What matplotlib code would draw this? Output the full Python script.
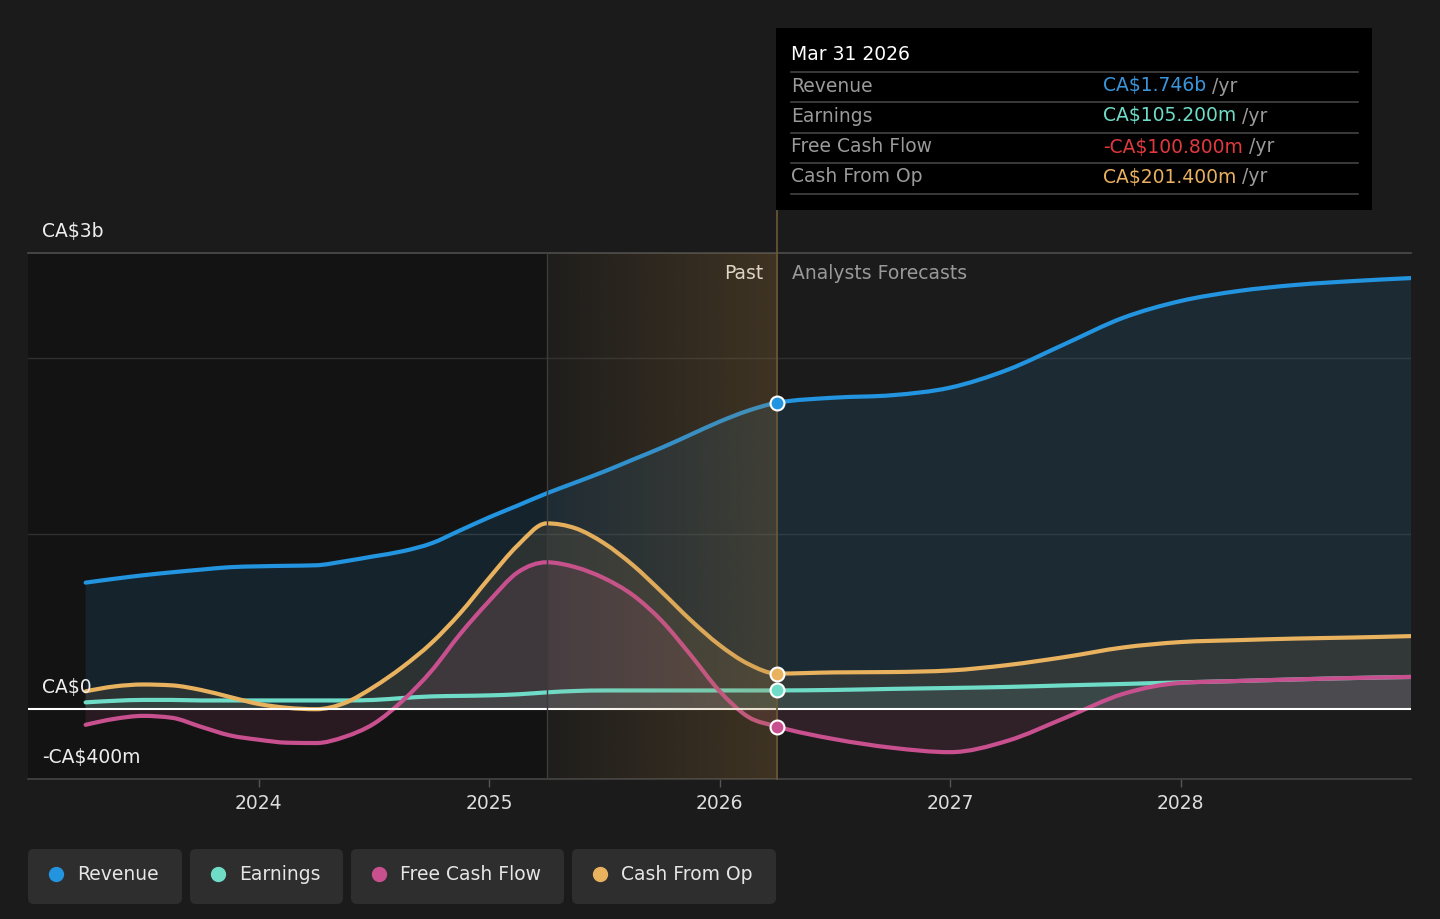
import numpy as np
import matplotlib
matplotlib.use('Agg')
import matplotlib.pyplot as plt
from matplotlib.patches import Rectangle, FancyBboxPatch, PathPatch
from matplotlib.path import Path

# fractional years: eighths of a year for the past, quarters for the forecast
years = [2023.25, 2023.375, 2023.5, 2023.625, 2023.75, 2023.875, 2024.0, 2024.125,
         2024.25, 2024.375, 2024.5, 2024.625, 2024.75, 2024.875, 2025.0, 2025.125,
         2025.25, 2025.375, 2025.5, 2025.625, 2025.75, 2025.875, 2026.0, 2026.125,
         2026.25, 2026.5, 2026.75, 2027.0, 2027.25, 2027.5, 2027.75, 2028.0,
         2028.25, 2028.5, 2028.75, 2029.0]

# values in CA$ millions
revenue = [720, 742, 762, 779, 794, 808, 813, 816, 819, 842, 870, 899, 944, 1018, 1092, 1160,
           1229, 1291, 1354, 1422, 1490, 1564, 1638, 1701, 1746, 1775, 1789, 1832, 1934, 2082,
           2230, 2326, 2383, 2418, 2440, 2457]
earnings = [37, 46, 51, 51, 48, 48, 48, 48, 48, 48, 51, 62, 71, 74, 77, 83,
             94, 102, 105, 105, 105, 105, 105, 105, 105.2, 108, 114, 119, 125, 134,
             142, 151, 159, 168, 176, 182]
fcf = [-91, -57, -40, -51, -102, -151, -176, -193, -195, -159, -85, 46, 216, 427, 614, 779,
       836, 808, 745, 648, 501, 307, 102, -46, -100.8, -173, -222, -247, -182, -51,
       85, 148, 159, 168, 176, 182]
cfo = [100, 128, 139, 134, 108, 68, 28, 6, -2, 34, 125, 239, 375, 546, 745, 933,
       1058, 1030, 944, 819, 666, 506, 364, 256, 201.4, 208, 210, 219, 250, 296,
       350, 381, 392, 401, 407, 415]

names = ['Revenue', 'Earnings', 'Free Cash Flow', 'Cash From Op']
colors = ['#2394df', '#6fdcc8', '#c9508f', '#e8b25f']
value_colors = ['#3a95db', '#6fdcc8', '#e0393e', '#e8b060']
now = 2026.25
past_start = 2025.25


def monotone_path(xs, ys, close_to=None):
    # monotone-x cubic through the points, as bezier segments
    xs = np.asarray(xs, float)
    ys = np.asarray(ys, float)
    n = len(xs)
    h = np.diff(xs)
    s = np.diff(ys) / h
    m = np.zeros(n)
    for i in range(1, n - 1):
        p = (s[i-1] * h[i] + s[i] * h[i-1]) / (h[i-1] + h[i])
        m[i] = (np.sign(s[i-1]) + np.sign(s[i])) * min(abs(s[i-1]), abs(s[i]), 0.5 * abs(p))
    m[0] = (3 * s[0] - m[1]) / 2
    m[-1] = (3 * s[-1] - m[-2]) / 2
    verts = [(xs[0], ys[0])]
    codes = [Path.MOVETO]
    for i in range(n - 1):
        d = h[i] / 3
        verts += [(xs[i] + d, ys[i] + m[i] * d), (xs[i+1] - d, ys[i+1] - m[i+1] * d),
                  (xs[i+1], ys[i+1])]
        codes += [Path.CURVE4] * 3
    if close_to is not None:
        verts += [(xs[-1], close_to), (xs[0], close_to), (xs[0], ys[0])]
        codes += [Path.LINETO, Path.LINETO, Path.CLOSEPOLY]
    return Path(verts, codes)


bg = '#1b1b1b'
fig = plt.figure(figsize=(14.4, 9.19), dpi=100, facecolor=bg)
ax = fig.add_axes([28/1440, 140/919, 1383/1440, 526/919])
ax.set_facecolor(bg)

ax.axvspan(2023.0, past_start, color='#131313', lw=0, zorder=0)
for g in [1000, 2000]:
    ax.axhline(g, color='#303030', lw=1, zorder=0.5)

series = [revenue, earnings, fcf, cfo]
alphas = [0.13, 0.10, 0.12, 0.11]
for s, c, a in zip(series, colors, alphas):
    ax.add_patch(PathPatch(monotone_path(years, s, close_to=0), fc=c, alpha=a, lw=0, zorder=1))
for s, c in zip(series, colors):
    ax.add_patch(PathPatch(monotone_path(years, s), fc='none', ec=c, lw=3,
                           capstyle='round', zorder=3))

ax.axhline(0, color='white', lw=1.5, zorder=3.5)

# past band gradient
grad = np.zeros((1, 256, 4))
grad[..., 0] = 167/255
grad[..., 1] = 123/255
grad[..., 2] = 59/255
grad[..., 3] = np.linspace(0.03, 0.26, 256)
ax.imshow(grad, extent=[past_start, now, -400, 2600], aspect='auto',
          interpolation='bilinear', zorder=4)
ax.axvline(past_start, color='#3c3c3c', lw=1, zorder=4.5)
ax.axvline(now, color='#6b5836', lw=1.2, ymin=0, ymax=569/526, clip_on=False, zorder=4.5)

idx = years.index(now)
for s, c in zip(series, colors):
    ax.plot(now, s[idx], 'o', ms=10, mfc=c, mec='white', mew=1.5, zorder=6)

ax.set_xlim(2023.0, 2029.0)
ax.set_ylim(-400, 2600)

for side in ['left', 'right']:
    ax.spines[side].set_visible(False)
ax.spines['top'].set_color('#4d4d4d')
ax.spines['top'].set_linewidth(1.2)
ax.spines['bottom'].set_color('#444444')
ax.spines['bottom'].set_linewidth(1.2)
ax.set_yticks([])
ax.set_xticks([2024, 2025, 2026, 2027, 2028])
ax.set_xticklabels(['2024', '2025', '2026', '2027', '2028'])
ax.tick_params(axis='x', colors='#555555', labelcolor='#dddddd', length=6, width=1,
               pad=5, labelsize=13.5)

for lab, yv in [('CA$3b', 2600), ('CA$0', 0), ('-CA$400m', -400)]:
    ax.annotate(lab, xy=(0, yv), xycoords=('axes fraction', 'data'), xytext=(10, 15.5),
                textcoords='offset points', color='#eeeeee', fontsize=13.5, va='center',
                annotation_clip=False)

ax.annotate('Past', xy=(now, 1), xycoords=('data', 'axes fraction'), xytext=(-10, -15),
            textcoords='offset points', color='#eeeeee', fontsize=13.5, ha='right', va='center')
ax.annotate('Analysts Forecasts', xy=(now, 1), xycoords=('data', 'axes fraction'),
            xytext=(10.5, -15), textcoords='offset points', color='#999999', fontsize=13.5,
            ha='left', va='center')

# overlay in pixel coords for tooltip and legend
ov = fig.add_axes([0, 0, 1, 1], zorder=10)
ov.set_xlim(0, 1440)
ov.set_ylim(919, 0)
ov.axis('off')

ov.add_patch(Rectangle((776, 28), 596, 182, color='black', lw=0))
ov.text(791, 55, 'Mar 31 2026', color='white', fontsize=13.5, va='center')
for yy in [72, 102, 133, 163, 194]:
    ov.plot([791, 1358], [yy, yy], color='#444444', lw=1.2)


def fmt(v, big=False):
    sign = '-' if v < 0 else ''
    if big:
        return f'{sign}CA${abs(v)/1000:.3f}b'
    return f'{sign}CA${abs(v):.3f}m'


row_y = [86, 116, 147, 177]
vals = [fmt(revenue[idx], True), fmt(earnings[idx]), fmt(fcf[idx]), fmt(cfo[idx])]
vtexts = []
for name, v, vc, yy in zip(names, vals, value_colors, row_y):
    ov.text(791, yy, name, color='#9a9a9a', fontsize=13.5, va='center')
    vtexts.append(ov.text(1103, yy, v, color=vc, fontsize=13.5, va='center'))

fig.canvas.draw()
r = fig.canvas.get_renderer()
for t, yy in zip(vtexts, row_y):
    bb = t.get_window_extent(r)
    ov.text(bb.x1 + 6, yy, '/yr', color='#9a9a9a', fontsize=13.5, va='center')

# legend buttons
boxes = [(28, 182), (190, 343), (351, 564), (572, 776)]
for (x0, x1), name, c in zip(boxes, names, colors):
    ov.add_patch(FancyBboxPatch((x0, 849), x1 - x0, 55, boxstyle='round,pad=0,rounding_size=6',
                                fc='#2e2e2e', ec='none'))
    ov.plot(x0 + 28, 874, 'o', ms=10, color=c)
    ov.text(x0 + 49, 874, name, color='#e6e6e6', fontsize=13.5, va='center')

fig.savefig('out.png', dpi=100, facecolor=bg)
